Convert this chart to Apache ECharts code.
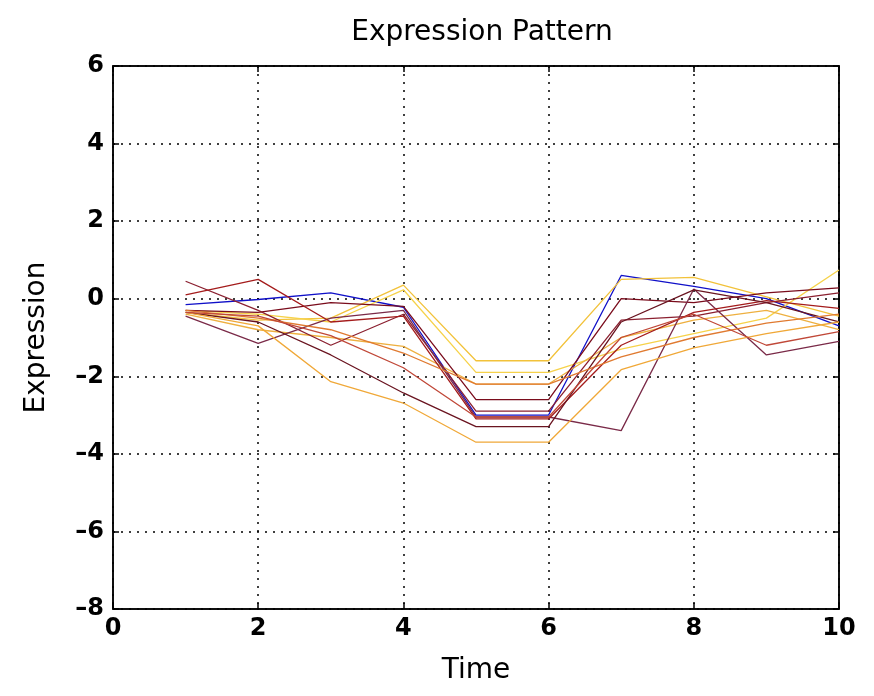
<!DOCTYPE html>
<html>
<head>
<meta charset="utf-8">
<script src="https://cdn.jsdelivr.net/npm/echarts@6/dist/echarts.min.js"></script>
<style>
  html, body { margin: 0; padding: 0; background: #fff; }
  #main { width: 874px; height: 696px; }
</style>
</head>
<body>
<div id="main"></div>
<script>
const times = [1, 2, 3, 4, 5, 6, 7, 8, 9, 10];

const blue1   = [-0.15, -0.02, 0.15, -0.22, -3.0, -3.0, 0.6, 0.32, 0.0, -0.7];
const yellow1 = [-0.35, -0.55, -0.5, 0.35, -1.6, -1.6, 0.5, 0.55, 0.05, -0.45];
const yellow2 = [-0.3, -0.4, -0.6, 0.23, -1.9, -1.9, -1.3, -0.9, -0.5, 0.74];
const amber1  = [-0.4, -0.8, -1.0, -1.23, -2.2, -2.2, -1.0, -0.55, -0.3, -0.8];
const darkRed1 = [-0.3, -0.35, -0.1, -0.2, -2.6, -2.6, 0.0, -0.1, 0.15, 0.28];
const maroon1 = [0.45, -0.3, -1.2, -0.4, -2.9, -2.9, -0.55, -0.45, -0.1, 0.15];
const plum1   = [-0.45, -1.15, -0.5, -0.3, -3.05, -3.05, -3.4, 0.25, -1.45, -1.1];
const red1    = [0.1, 0.5, -0.6, -0.45, -3.1, -3.1, -1.2, -0.35, -0.05, -0.25];
const darkRed2 = [-0.35, -0.6, -1.45, -2.43, -3.3, -3.3, -0.6, 0.23, -0.1, -0.6];
const orange1 = [-0.35, -0.7, -2.14, -2.69, -3.7, -3.7, -1.83, -1.27, -0.9, -0.6];
const orange2 = [-0.3, -0.5, -0.8, -1.4, -2.2, -2.2, -1.5, -1.0, -0.63, -0.4];
const brick1  = [-0.35, -0.45, -0.95, -1.78, -3.05, -3.05, -1.0, -0.4, -1.2, -0.85];

const lines = [
    { name: "blue1", data: blue1, color: "#1010c8" },
    { name: "yellow1", data: yellow1, color: "#f2c23a" },
    { name: "yellow2", data: yellow2, color: "#f6d24a" },
    { name: "amber1", data: amber1, color: "#eeb040" },
    { name: "darkRed1", data: darkRed1, color: "#7a0c1c" },
    { name: "maroon1", data: maroon1, color: "#8b2030" },
    { name: "plum1", data: plum1, color: "#7a2a48" },
    { name: "red1", data: red1, color: "#a41c1c" },
    { name: "darkRed2", data: darkRed2, color: "#6a1420" },
    { name: "orange1", data: orange1, color: "#f0a838" },
    { name: "orange2", data: orange2, color: "#e07a30" },
    { name: "brick1", data: brick1, color: "#c04838" }
];

const fontName = "DejaVu Sans, sans-serif";
const fmt = (v) => String(v).replace("-", "\u2013");
const tickFont = { fontFamily: fontName, fontSize: 24, fontWeight: "bold", color: "#000" };
const gridDots = { show: true, lineStyle: { color: "#000", width: 1.5, type: [2, 6] } };
const boxLine = { show: true, onZero: false, lineStyle: { color: "#000", width: 1.5 } };
const inTicks = { show: true, inside: true, length: 6, lineStyle: { color: "#000", width: 1.5 } };

const chart = echarts.init(document.getElementById("main"));

const option = {
    animation: false,
    backgroundColor: "#fff",
    title: {
        text: "Expression Pattern",
        left: 477,
        top: 14,
        textAlign: "center",
        textStyle: { fontFamily: fontName, fontSize: 28, fontWeight: "normal", color: "#000" }
    },
    grid: {
        left: 113, right: 35, top: 66, bottom: 87,
        show: true, borderColor: "#000", borderWidth: 1.5, backgroundColor: "#fff"
    },
    xAxis: [
        {
            type: "value", min: 0, max: 10, interval: 2,
            name: "Time", nameLocation: "middle", nameGap: 48,
            nameTextStyle: { fontFamily: fontName, fontSize: 28, color: "#000" },
            axisLine: boxLine,
            axisTick: inTicks,
            axisLabel: Object.assign({ margin: 8, formatter: fmt }, tickFont),
            splitLine: gridDots
        },
        {
            type: "value", min: 0, max: 10, interval: 2, position: "top",
            axisLine: boxLine, axisTick: inTicks,
            axisLabel: { show: false }, splitLine: { show: false }
        }
    ],
    yAxis: [
        {
            type: "value", min: -8, max: 6, interval: 2,
            name: "Expression", nameLocation: "middle", nameGap: 62, nameRotate: 90,
            nameTextStyle: { fontFamily: fontName, fontSize: 28, color: "#000" },
            axisLine: boxLine,
            axisTick: inTicks,
            axisLabel: Object.assign({ margin: 9, formatter: fmt }, tickFont),
            splitLine: gridDots
        },
        {
            type: "value", min: -8, max: 6, interval: 2, position: "right",
            axisLine: boxLine, axisTick: inTicks,
            axisLabel: { show: false }, splitLine: { show: false }
        }
    ],
    series: lines.map((l) => ({
        name: l.name,
        type: "line",
        data: times.map((t, i) => [t, l.data[i]]),
        showSymbol: false,
        symbol: "none",
        lineStyle: { color: l.color, width: 1.3 },
        itemStyle: { color: l.color },
        z: 3
    }))
};

chart.setOption(option);
</script>
</body>
</html>
